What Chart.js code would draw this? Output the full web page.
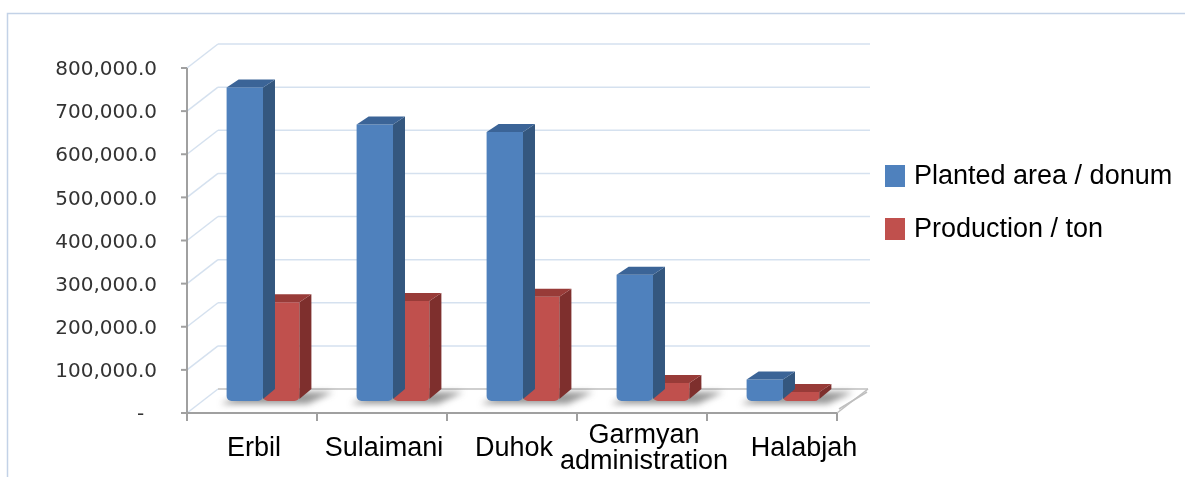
<!DOCTYPE html>
<html>
<head>
<meta charset="utf-8">
<title>Planted area and production by governorate</title>
<script src="https://cdn.jsdelivr.net/npm/chart.js@4.4.1/dist/chart.umd.min.js"></script>
<style>
  html, body { margin: 0; padding: 0; background: #fff; }
  #wrap { position: relative; width: 1185px; height: 477px; overflow: hidden; }
</style>
</head>
<body>
<div id="wrap"><canvas id="myChart" width="1185" height="477"></canvas></div>
<script>
//--------------------- Data ---------------------
// leading spaces on the last label push it right, as Excel did to avoid the two-line label
const regions = ["Erbil", "Sulaimani", "Duhok", ["Garmyan", "administration"], "        Halabjah"];
const plantedArea = [727000, 641000, 624000, 293000, 50000];
const production = [229000, 232000, 242000, 42000, 21000];
const seriesNames = ["Planted area / donum", "Production / ton"];
const yTickValues = [0, 100000, 200000, 300000, 400000, 500000, 600000, 700000, 800000];

//--------------------- Look ---------------------
const frontColors = ["#4F81BD", "#C0504D"];
const sideColors = ["#34577F", "#7E2F2D"];
const topColors = ["#3B6497", "#983B38"];

// offsets of the front plane, back wall and bar depth, relative to the plane the bars stand in
const front = { dx: -11, dy: 12 };
const back = { dx: 20, dy: -12 };
const barDepth = { dx: 12, dy: -8 };

function line(ctx, x1, y1, x2, y2) {
  ctx.beginPath();
  ctx.moveTo(x1, y1);
  ctx.lineTo(x2, y2);
  ctx.stroke();
}

function poly(ctx, pts, color) {
  ctx.beginPath();
  ctx.moveTo(pts[0][0], pts[0][1]);
  for (let i = 1; i < pts.length; i++) ctx.lineTo(pts[i][0], pts[i][1]);
  ctx.closePath();
  ctx.fillStyle = color;
  ctx.fill();
}

const chart3d = {
  id: "chart3d",
  beforeDraw(chart) {
    const { ctx } = chart;
    ctx.save();
    ctx.fillStyle = "#fff";
    ctx.fillRect(0, 0, chart.width, chart.height);
    ctx.strokeStyle = "#C3D2E7";
    ctx.lineWidth = 1.5;
    ctx.strokeRect(7.5, 13.5, chart.width + 20, chart.height + 20);
    ctx.restore();
  },
  beforeDatasetsDraw(chart) {
    const { ctx, chartArea: a, scales: { x, y } } = chart;
    const y0 = y.getPixelForValue(0);
    ctx.save();

    // walls: back grid lines and the left side wall
    ctx.strokeStyle = "#D5E1EF";
    ctx.lineWidth = 1.5;
    y.ticks.forEach((t) => {
      const py = y.getPixelForValue(t.value);
      line(ctx, a.left + front.dx, py + front.dy, a.left + back.dx, py + back.dy);
      if (t.value !== 0) line(ctx, a.left + back.dx, py + back.dy, a.right + back.dx + 2, py + back.dy);
    });

    // floor
    ctx.strokeStyle = "#BFBFBF";
    ctx.lineWidth = 1.5;
    line(ctx, a.left + back.dx, y0 + back.dy, a.right + back.dx, y0 + back.dy);
    line(ctx, a.right + front.dx, y0 + front.dy, a.right + back.dx, y0 + back.dy);
    line(ctx, a.right + front.dx + 2, y0 + front.dy - 4, a.right + back.dx - 1, y0 + back.dy + 3);

    // front axes
    ctx.strokeStyle = "#A0A0A0";
    ctx.lineWidth = 2;
    const yTop = y.getPixelForValue(yTickValues[yTickValues.length - 1]) + front.dy;
    line(ctx, a.left + front.dx, yTop, a.left + front.dx, y0 + front.dy);
    y.ticks.forEach((t) => {
      const py = y.getPixelForValue(t.value) + front.dy;
      line(ctx, a.left + front.dx - 6, py, a.left + front.dx, py);
    });
    line(ctx, a.left + front.dx, y0 + front.dy, a.right + front.dx, y0 + front.dy);
    const step = x.getPixelForValue(1) - x.getPixelForValue(0);
    for (let i = 0; i <= regions.length; i++) {
      const px = x.getPixelForValue(0) - step / 2 + i * step + front.dx;
      line(ctx, px, y0 + front.dy, px, y0 + front.dy + 8);
    }

    // soft shadows on the floor
    const m0 = chart.getDatasetMeta(0);
    const m1 = chart.getDatasetMeta(1);
    ctx.filter = "blur(3px)";
    regions.forEach((r, i) => {
      const b0 = m0.data[i], b1 = m1.data[i];
      const gl = b0.x - b0.width / 2;
      const gr = b1.x + b1.width / 2;
      poly(ctx, [[gl - 6, y0 + 3], [gr + 8, y0 + 3], [gr + 34, y0 - 9], [gl + 20, y0 - 9]], "rgba(70,70,70,0.55)");
    });
    ctx.filter = "none";
    ctx.restore();
  },
  afterDatasetDraw(chart, args) {
    const { ctx } = chart;
    const k = args.index;
    ctx.save();
    args.meta.data.forEach((bar) => {
      const { x, y, base, width } = bar.getProps(["x", "y", "base", "width"], true);
      const l = x - width / 2;
      const r = x + width / 2;
      const bottom = Math.max(y, base - 4);
      poly(ctx, [[r, y], [r + barDepth.dx, y + barDepth.dy], [r + barDepth.dx, bottom + barDepth.dy], [r, bottom + 2]], sideColors[k]);
      poly(ctx, [[l, y], [l + barDepth.dx, y + barDepth.dy], [r + barDepth.dx, y + barDepth.dy], [r, y]], topColors[k]);
    });
    ctx.restore();
  },
  afterDraw(chart) {
    // legend on the right
    const { ctx } = chart;
    ctx.save();
    ctx.font = '27px "Liberation Sans", Arial, sans-serif';
    ctx.textBaseline = "middle";
    ctx.textAlign = "left";
    chart.data.datasets.forEach((ds, i) => {
      const cy = 176 + i * 53;
      ctx.fillStyle = ds.backgroundColor;
      ctx.fillRect(885, cy - 11, 20, 22);
      ctx.fillStyle = "#000";
      ctx.fillText(ds.label, 914, cy + 1);
    });
    ctx.restore();
  },
};

//--------------------- Chart ---------------------
const ctx = document.getElementById("myChart").getContext("2d");

const myChart = new Chart(ctx, {
  type: "bar",
  data: {
    labels: regions,
    datasets: [
      { label: seriesNames[0], data: plantedArea, backgroundColor: frontColors[0] },
      { label: seriesNames[1], data: production, backgroundColor: frontColors[1] },
    ],
  },
  options: {
    responsive: false,
    animation: false,
    devicePixelRatio: 1,
    layout: { padding: { top: 56, right: 337, bottom: 0, left: 0 } },
    datasets: {
      bar: {
        categoryPercentage: 0.56,
        barPercentage: 1,
        borderWidth: 0,
        borderSkipped: false,
        borderRadius: { topLeft: 0, topRight: 0, bottomLeft: 5, bottomRight: 5 },
      },
    },
    plugins: {
      legend: { display: false },
      tooltip: { enabled: false },
    },
    scales: {
      x: {
        grid: { display: false, drawTicks: false },
        border: { display: false },
        ticks: {
          autoSkip: false,
          maxRotation: 0,
          minRotation: 0,
          crossAlign: "center",
          padding: 35,
          labelOffset: -9,
          color: "#000",
          font: { family: '"Liberation Sans", Arial, sans-serif', size: 27, lineHeight: "26px" },
        },
        afterFit: (scale) => {
          scale.height = 76;
        },
      },
      y: {
        min: 0,
        max: 800000,
        grid: { display: false, drawTicks: false },
        border: { display: false },
        afterBuildTicks: (scale) => {
          scale.ticks = yTickValues.map((v) => ({ value: v }));
        },
        ticks: {
          padding: 41,
          labelOffset: 14,
          color: "#333333",
          font: { family: '"DejaVu Sans", sans-serif', size: 20 },
          callback: (v) =>
            v === 0 ? "-  " : v.toLocaleString("en-US", { minimumFractionDigits: 1, maximumFractionDigits: 1 }),
        },
        afterFit: (scale) => {
          scale.width = 198;
        },
      },
    },
  },
  plugins: [chart3d],
});
</script>
</body>
</html>
